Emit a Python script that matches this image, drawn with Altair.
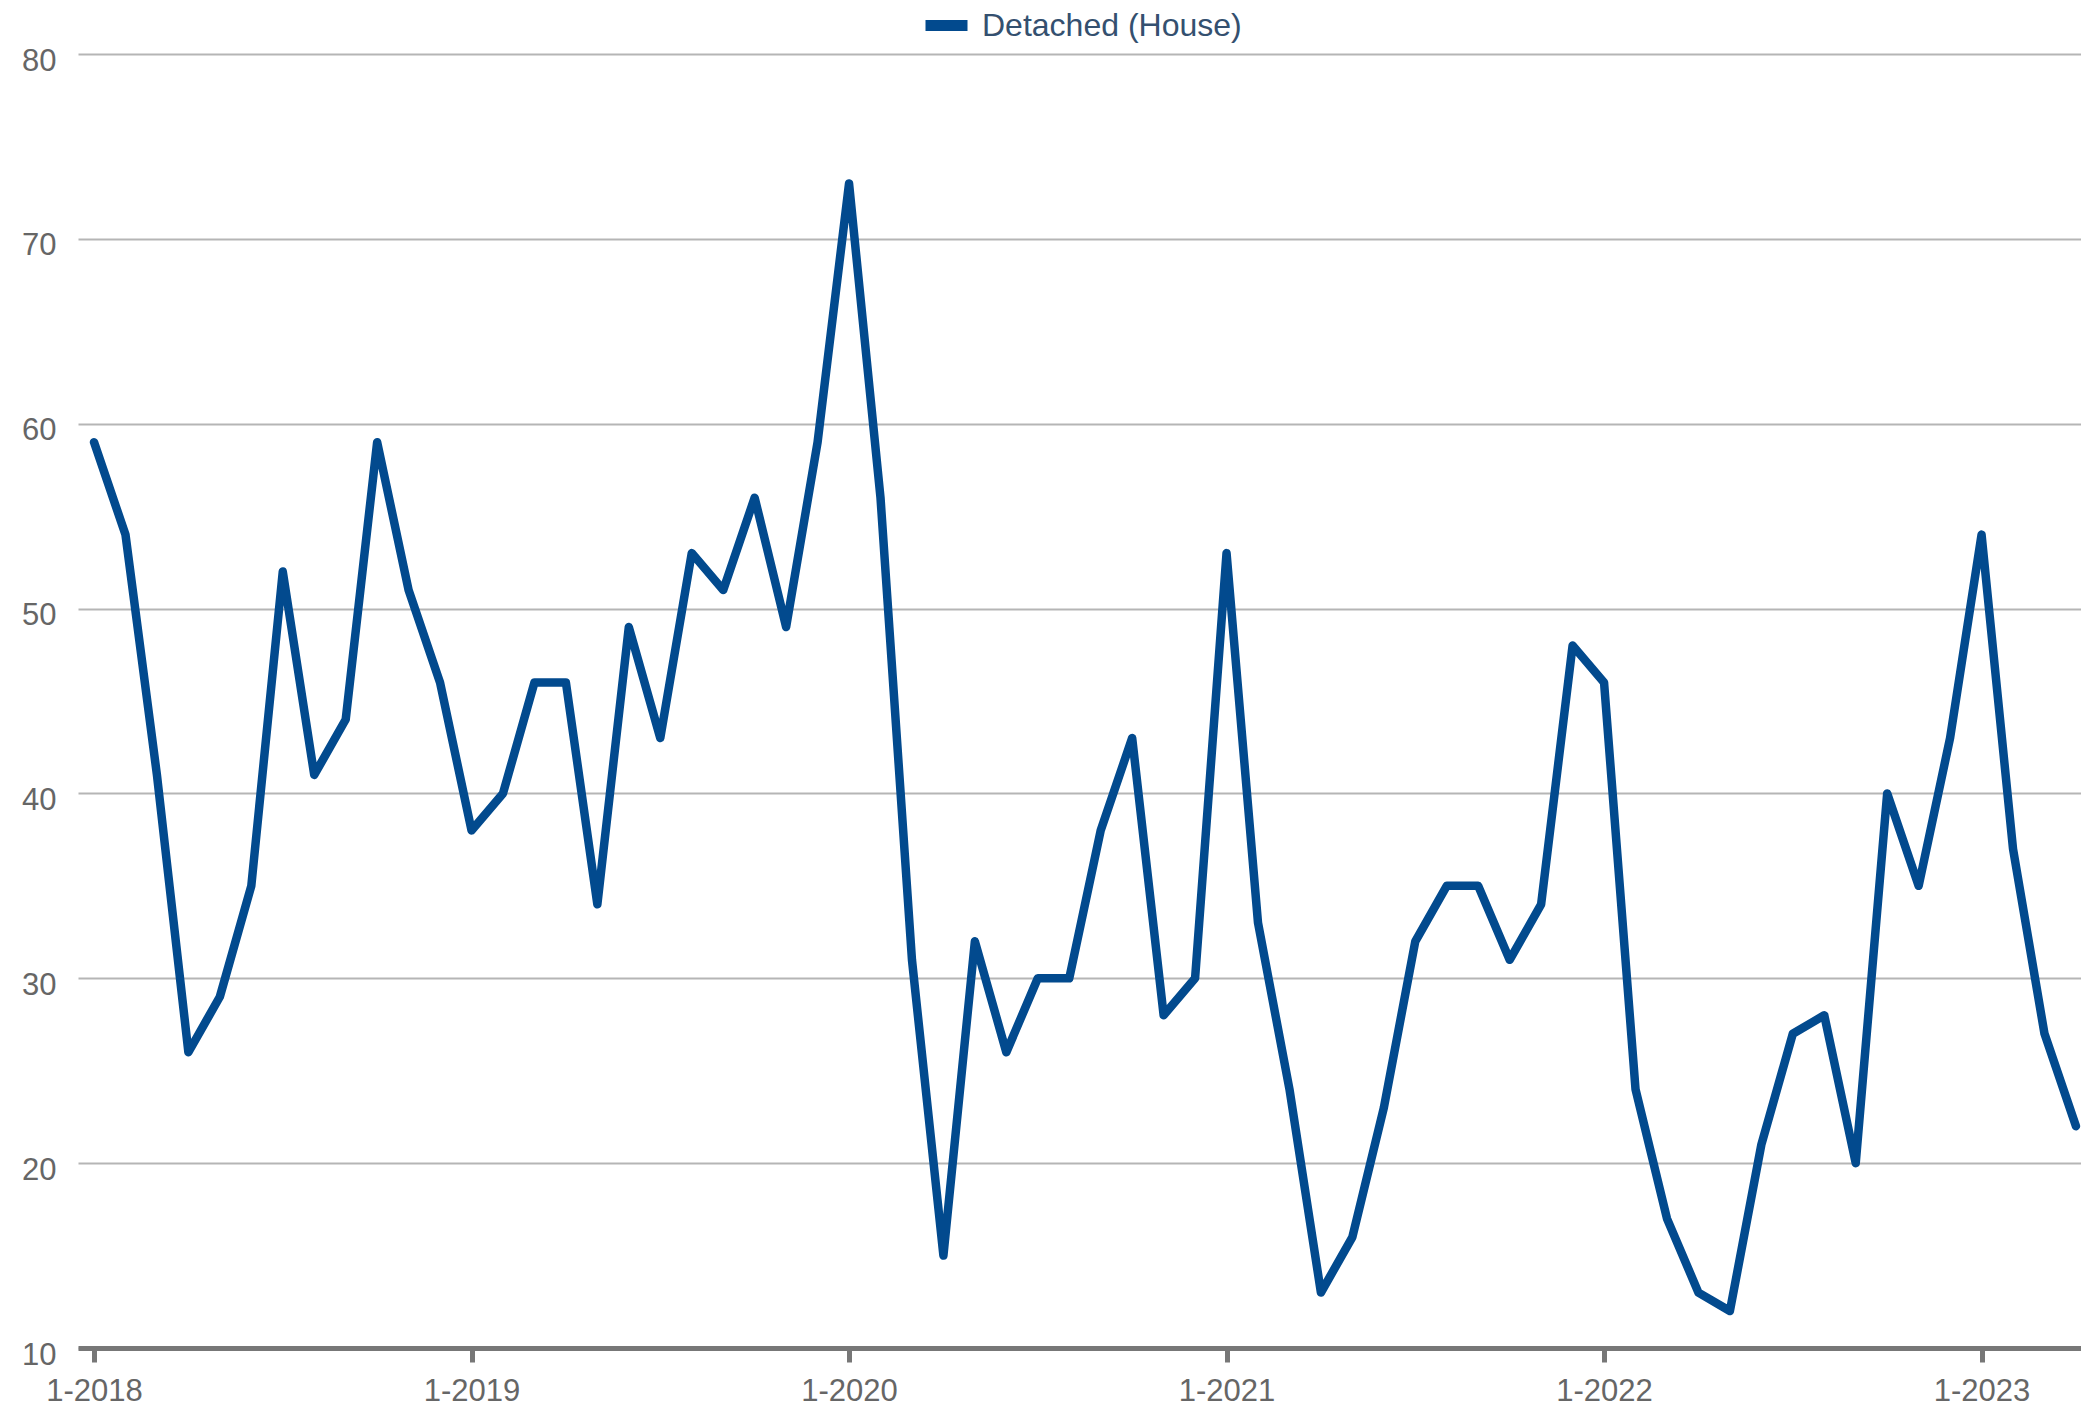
import altair as alt
import pandas as pd

years = [2018, 2019, 2020, 2021, 2022, 2023]
months = [f"{m}-{y}" for y in years for m in range(1, 13)][:64]
values = [
    59, 54, 41, 26, 29, 35, 52, 41, 44, 59, 51, 46,
    38, 40, 46, 46, 34, 49, 43, 53, 51, 56, 49, 59,
    73, 56, 31, 15, 32, 26, 30, 30, 38, 43, 28, 30,
    53, 33, 24, 13, 16, 23, 32, 35, 35, 31, 34, 48,
    46, 24, 17, 13, 12, 21, 27, 28, 20, 40, 35, 43,
    54, 37, 27, 22,
]
series = ["Detached (House)"] * len(values)
tick_labels = [f"1-{y}" for y in years]
y_ticks = [10, 20, 30, 40, 50, 60, 70, 80]

df = pd.DataFrame({"month": months, "value": values, "series": series})

FONT = "Liberation Sans"

chart = alt.Chart(df).mark_line(
    strokeWidth=8.5, strokeCap="round", strokeJoin="round"
).encode(
    x=alt.X("month:O", sort=None,
            scale=alt.Scale(type="point", padding=0.335, align=0.76),
            axis=alt.Axis(values=tick_labels, title=None, labelAngle=0,
                          domainColor="#777777", domainWidth=5,
                          tickColor="#777777", tickWidth=5, tickSize=14,
                          labelPadding=14, labelColor="#666666",
                          labelFontSize=31, labelFont=FONT, grid=False)),
    y=alt.Y("value:Q", scale=alt.Scale(domain=[10, 80], nice=False, zero=False),
            axis=alt.Axis(values=y_ticks, title=None, domain=False, ticks=False,
                          labelPadding=22, labelOffset=7, labelColor="#666666",
                          labelFontSize=31, labelFont=FONT,
                          gridColor="#b5b5b5", gridWidth=2)),
    color=alt.Color("series:N",
                    scale=alt.Scale(range=["#024a8e"]),
                    legend=alt.Legend(title=None, orient="none",
                                      legendX=842, legendY=-55,
                                      symbolType="stroke", symbolStrokeWidth=11,
                                      symbolSize=1764, labelFontSize=32,
                                      labelFont=FONT, labelColor="#34506f",
                                      labelOffset=9, labelLimit=600)),
).properties(
    width=2003, height=1294,
    background="white",
    autosize=alt.AutoSizeParams(type="none"),
    padding={"left": 70, "top": 46, "right": 0, "bottom": 62},
).configure_view(stroke=None, strokeWidth=0)

chart.save("out.html", embed_options={"renderer": "svg", "actions": False})
